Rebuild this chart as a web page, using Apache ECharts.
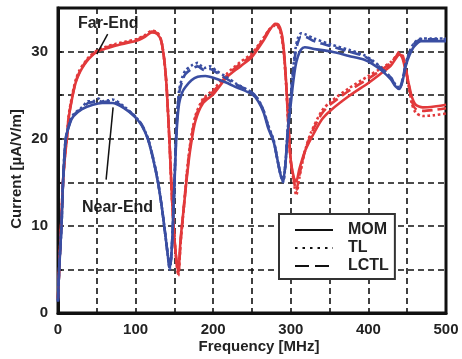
<!DOCTYPE html>
<html>
<head>
<meta charset="utf-8">
<script src="https://cdn.jsdelivr.net/npm/echarts@6/dist/echarts.min.js"></script>
<style>html,body{margin:0;padding:0;background:#fff}#c{width:462px;height:359px}</style>
</head>
<body>
<div id="c"></div>
<script>
// Frequency [MHz], Current [uA/V/m]
var farMOM = [[0,1.8],[1.5,5],[4,10],[6.5,15],[9,18],[11.5,20],[14,22.5],[19,25],[23,26.5],[28,27.6],[34,28.5],[40,29.2],[50,30],[60,30.3],[75,30.7],[100,31.2],[112,31.7],[121,32.2],[128,32.0],[133,31.2],[137,29],[140,25.9],[144,19],[147,13],[151,7.5],[155,4.7],[158,8.5],[162,12],[166,15.5],[170,18.5],[177,22],[187,24.1],[200,25.1],[218,27.1],[235,28.3],[250,29.4],[265,31.3],[273,32.5],[280,33.2],[284,33.1],[288,32.2],[291,30.2],[294,26.5],[297,21.5],[300,17.5],[304,15.5],[307,15.1],[311,16.5],[318,18.5],[326,20],[340,22.2],[352,23.3],[375,24.9],[400,26.4],[415,27.4],[429,28.4],[436,29.3],[440,29.7],[444,29.2],[448,27.8],[452,26.3],[456,24.8],[461,23.9],[470,23.6],[485,23.7],[500,23.9]];
var farTL = [[0,1.6],[1.5,5],[4,10],[6.5,15.2],[9,18.2],[11.5,20.3],[14,22.8],[19,25.3],[23,26.8],[28,27.9],[34,28.7],[40,29.4],[50,30.1],[60,30.5],[75,30.9],[100,31.4],[112,31.9],[121,32.4],[128,32.2],[133,31.3],[137,29],[140,25.9],[144,19],[147,13],[151,7.5],[155,4.3],[158,8],[162,12],[166,16],[170,19.2],[177,22.6],[187,24.6],[200,25.6],[218,27.5],[235,28.8],[250,29.8],[265,31.6],[273,32.6],[280,33.0],[284,32.8],[288,31.8],[291,29.8],[294,26.2],[297,21.3],[300,17.3],[304,15.0],[307,13.5],[311,15.5],[318,18.5],[326,20.7],[340,23.2],[352,24.3],[375,25.8],[400,27.2],[415,28.0],[429,28.8],[436,29.5],[440,29.8],[444,29.4],[448,28.0],[452,26.0],[456,24.0],[461,23.0],[470,22.6],[485,22.7],[500,22.9]];
var farLCTL = [[0,1.7],[1.5,5],[4,10],[6.5,15.1],[9,18.1],[11.5,20.2],[14,22.6],[19,25.1],[23,26.6],[28,27.7],[34,28.6],[40,29.3],[50,30.0],[60,30.4],[75,30.8],[100,31.3],[112,31.8],[121,32.3],[128,32.1],[133,31.3],[137,29],[140,25.9],[144,19],[147,13],[151,7.5],[155,4.5],[158,8.2],[162,12],[166,15.8],[170,19],[177,22.4],[187,24.4],[200,25.4],[218,27.3],[235,28.6],[250,29.6],[265,31.5],[273,32.6],[280,33.1],[284,32.9],[288,32.0],[291,30.0],[294,26.3],[297,21.4],[300,17.4],[304,15.2],[307,14.0],[311,15.8],[318,18.5],[326,20.5],[340,22.9],[352,24.0],[375,25.5],[400,26.9],[415,27.8],[429,28.7],[436,29.5],[440,30.0],[444,29.6],[448,28.2],[452,26.2],[456,24.3],[461,23.4],[470,23.2],[485,23.3],[500,23.5]];
var nearMOM = [[0,1.5],[1.5,5],[4.5,10],[6.5,15],[10,20],[15.5,21.8],[20,22.6],[31,23.4],[45,23.9],[57,24.1],[70,24.1],[85,23.5],[99,22.5],[108,21.5],[116,19.9],[123,17.5],[129,14.9],[134,12],[138,9.2],[141,7],[144,5.2],[146,6.5],[148,10],[151,17],[153,21],[156,24],[160,25.3],[164,25.9],[172,26.7],[180,27.1],[190,27.2],[200,27.0],[215,26.5],[230,25.9],[250,25.1],[258,24.3],[265,23],[271,21.2],[278,19.6],[283,17.5],[287,15.8],[290,15.3],[293,17],[296,20.7],[300,24],[303,26.4],[306,28.3],[309,29.4],[313,30.2],[318,30.5],[330,30.3],[352,30.0],[375,29.5],[394,29.1],[405,28.6],[416,27.9],[429,26.8],[435,26.0],[440,25.7],[444,26.6],[448,28.3],[453,29.6],[459,30.6],[468,31.2],[480,31.2],[500,31.2]];
var nearTL = [[0,1.3],[1.5,5],[4.5,10],[6.5,15],[10,20.1],[15.5,22],[20,22.8],[31,23.6],[39,24.3],[45,24.3],[52,24.6],[57,24.3],[65,24.4],[70,24.5],[85,23.7],[99,22.6],[108,21.6],[116,20],[123,17.6],[129,15],[134,12],[138,9.2],[141,7],[144,5.0],[146,6.5],[148,10],[151,17.5],[153,22],[156,25.5],[160,27],[164,27.8],[172,28.4],[180,28.7],[188,28.1],[196,28.3],[204,27.8],[215,27.2],[230,26.3],[250,25.3],[258,24.5],[265,23.2],[271,21.5],[278,19.8],[283,17.5],[287,15.8],[290,15.0],[293,17],[296,21],[300,25],[303,28],[306,30.3],[309,31.5],[313,32.1],[318,32.0],[330,31.5],[352,30.8],[375,30.2],[394,29.6],[405,29.0],[416,28.2],[429,27.0],[435,26.2],[440,25.8],[444,26.8],[448,28.6],[453,30.0],[459,31.0],[468,31.5],[480,31.5],[500,31.5]];
var nearLCTL = [[0,1.4],[1.5,5],[4.5,10],[6.5,15],[10,20],[15.5,21.9],[20,22.7],[31,23.5],[39,24.1],[45,24.2],[52,24.4],[57,24.2],[65,24.3],[70,24.3],[85,23.6],[99,22.6],[108,21.6],[116,20],[123,17.6],[129,15],[134,12],[138,9.2],[141,7],[144,5.1],[146,6.5],[148,10],[151,17.3],[153,21.7],[156,25.2],[160,26.6],[164,27.4],[172,28.0],[180,28.3],[188,27.9],[196,28.0],[204,27.6],[215,27.0],[230,26.2],[250,25.3],[258,24.5],[265,23.2],[271,21.4],[278,19.7],[283,17.5],[287,15.8],[290,15.1],[293,17],[296,20.9],[300,24.8],[303,27.6],[306,29.8],[309,31.0],[313,31.7],[318,31.7],[330,31.2],[352,30.6],[375,30.0],[394,29.5],[405,28.9],[416,28.1],[429,27.0],[435,26.1],[440,25.8],[444,26.8],[448,28.5],[453,29.9],[459,30.9],[468,31.4],[480,31.4],[500,31.4]];
var xTickLabels = ['0','100','200','300','400','500'];
var yTickLabels = ['0','10','20','30'];
var legendNames = ['MOM','TL','LCTL'];
var farLeader = [[64,32],[50,29.7]];
var nearLeader = [[71,23.6],[62,15.3]];

var RED = '#e2393b', BLUE = '#3a4ea2';
var FONT = 'Liberation Sans, Arial, sans-serif';
function s(name, data, color, type, extra) {
  var o = {type:'line', name:name, data:data, symbol:'none', smooth:0.25,
    lineStyle:{color:color, width:2.6, type:type}, itemStyle:{color:color}, z:3};
  if (extra) for (var k in extra) o[k] = extra[k];
  return o;
}
var chart = echarts.init(document.getElementById('c'));
chart.setOption({
  animation:false,
  backgroundColor:'#fff',
  grid:{left:58, right:16, top:8, bottom:46, show:true, borderColor:'#111', borderWidth:3},
  legend:{data:legendNames, orient:'vertical', left:279, top:214, itemWidth:38, itemHeight:12, itemGap:2,
    padding:[8,6,5,15], borderColor:'#333', borderWidth:2, backgroundColor:'#fff',
    itemStyle:{color:'rgba(0,0,0,0)', borderColor:'rgba(0,0,0,0)', borderWidth:0, opacity:0},
    textStyle:{fontFamily:FONT, fontWeight:'bold', fontSize:16, color:'#222', padding:[0,0,0,10]}, selectedMode:false},
  xAxis:{type:'value', min:0, max:500, interval:50,
    axisLine:{lineStyle:{color:'#111', width:3}},
    axisTick:{show:false},
    axisLabel:{margin:9, fontFamily:FONT, fontWeight:'bold', fontSize:15, color:'#222',
      formatter:function(v){var i=xTickLabels.indexOf(String(v)); return (v%100===0 && i>=0)?xTickLabels[i]:'';}},
    splitLine:{show:true, lineStyle:{color:'#111', width:1.6, type:[6,4]}}},
  yAxis:{type:'value', min:0, max:35, interval:5,
    axisLine:{lineStyle:{color:'#111', width:3}},
    axisTick:{show:true, inside:true, length:4, lineStyle:{color:'#111', width:1.5}},
    axisLabel:{margin:10, fontFamily:FONT, fontWeight:'bold', fontSize:15, color:'#222',
      formatter:function(v){var i=yTickLabels.indexOf(String(v)); return (v%10===0 && i>=0)?yTickLabels[i]:'';}},
    splitLine:{show:true, lineStyle:{color:'#111', width:1.6, type:[6,4]}}},
  graphic:[
    {type:'text', left:78, top:16, style:{text:'Far-End', fontFamily:FONT, fontWeight:'bold', fontSize:16, fill:'#222'}},
    {type:'text', left:82, top:200, style:{text:'Near-End', fontFamily:FONT, fontWeight:'bold', fontSize:16, fill:'#222'}},
    {type:'text', x:259, y:347, style:{text:'Frequency [MHz]', fontFamily:FONT, fontWeight:'bold', fontSize:15, fill:'#222', align:'center', verticalAlign:'middle'}},
    {type:'text', x:17, y:169, rotation:Math.PI/2, style:{text:'Current [µA/V/m]', fontFamily:FONT, fontWeight:'bold', fontSize:15, fill:'#222', align:'center', verticalAlign:'middle'}}
  ],
  series:[
    s('far MOM', farMOM, RED, 'solid', {markLine:{silent:true, symbol:'none', label:{show:false},
      lineStyle:{color:'#111', width:1.5, type:'solid'},
      data:[[{coord:farLeader[0]},{coord:farLeader[1]}],[{coord:nearLeader[0]},{coord:nearLeader[1]}]]}}),
    s('far TL', farTL, RED, 'dotted'),
    s('far LCTL', farLCTL, RED, 'dashed'),
    s('near MOM', nearMOM, BLUE, 'solid'),
    s('near TL', nearTL, BLUE, 'dotted'),
    s('near LCTL', nearLCTL, BLUE, 'dashed'),
    {type:'line', name:'MOM', data:[], symbol:'none', lineStyle:{color:'#111', width:3, type:'solid'}, itemStyle:{color:'#111'}},
    {type:'line', name:'TL', data:[], symbol:'none', lineStyle:{color:'#111', width:2.5, type:[2.5,5]}, itemStyle:{color:'#111'}},
    {type:'line', name:'LCTL', data:[], symbol:'none', lineStyle:{color:'#111', width:3, type:[14,6]}, itemStyle:{color:'#111'}}
  ]
});
</script>
</body>
</html>
